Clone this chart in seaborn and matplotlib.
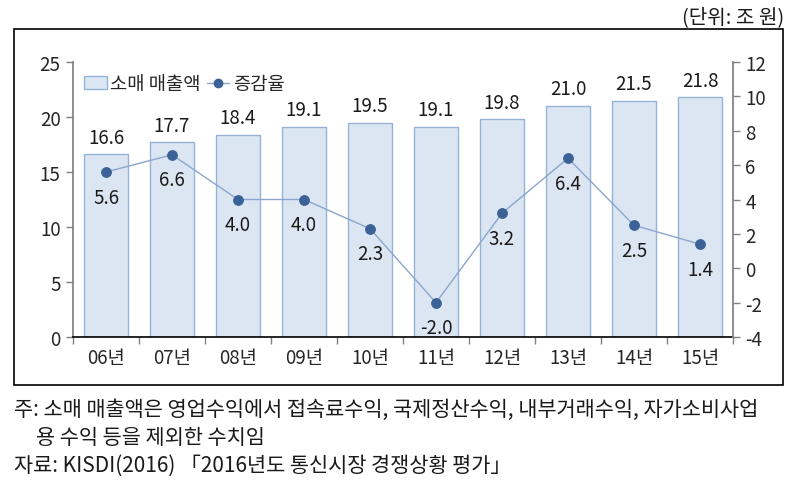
import matplotlib
matplotlib.use("Agg")
import matplotlib.pyplot as plt
import seaborn as sns
import pandas as pd
from matplotlib.patches import Rectangle, Patch
from matplotlib.lines import Line2D

years = ["06년", "07년", "08년", "09년", "10년", "11년", "12년", "13년", "14년", "15년"]
sales = [16.6, 17.7, 18.4, 19.1, 19.5, 19.1, 19.8, 21.0, 21.5, 21.8]
growth = [5.6, 6.6, 4.0, 4.0, 2.3, -2.0, 3.2, 6.4, 2.5, 1.4]
left_ticks = [0, 5, 10, 15, 20, 25]
right_ticks = [-4, -2, 0, 2, 4, 6, 8, 10, 12]

sns.set_theme(style="white")
plt.rcParams['font.family'] = ['Noto Sans CJK KR', 'DejaVu Sans']

df = pd.DataFrame({"year": years, "sales": sales, "growth": growth, "pos": range(len(years))})

fig = plt.figure(figsize=(7.91, 4.85), dpi=100)
W, H = 791, 485
ax = fig.add_axes([73 / W, 1 - 338 / H, (733 - 73) / W, (338 - 63) / H])

bar_face = "#DCE6F2"
bar_edge = "#95B3D7"
sns.barplot(data=df, x="year", y="sales", ax=ax, color=bar_face, width=0.66,
            saturation=1, edgecolor=bar_edge, linewidth=1.0)
ax.set_ylim(0, 25)
ax.set_xlim(-0.5, len(years) - 0.5)
ax.set_yticks(left_ticks)
ax.set_yticklabels([str(t) for t in left_ticks], fontsize=13.5)
ax.set_xlabel("")
ax.set_ylabel("")
ax.set_xticks(range(len(years)))
ax.set_xticklabels(years, fontsize=13.5)
ax.set_xticks([i - 0.5 for i in range(len(years) + 1)], minor=True)
ax.tick_params(axis="x", which="major", length=0, pad=7)
ax.tick_params(axis="x", which="minor", length=5, width=1, color="#808080", direction="out", bottom=True)
ax.tick_params(axis="y", length=5, width=1, color="#808080", direction="out", left=True, pad=4)
for s in ["top", "right"]:
    ax.spines[s].set_visible(False)
ax.spines["left"].set_color("#808080")
ax.spines["bottom"].set_color("black")
ax.spines["bottom"].set_linewidth(1.2)
for i, v in enumerate(sales):
    ax.text(i, v + 0.6, f"{v:.1f}", ha="center", va="bottom", fontsize=13.5, color="#1a1a1a")

ax2 = ax.twinx()
sns.lineplot(data=df, x="pos", y="growth", ax=ax2, color="#8AA5CF", linewidth=1.0,
             marker="o", markersize=7, markerfacecolor="#3B6296", markeredgecolor="#3B6296")
ax2.set_ylim(-4, 12)
ax2.set_yticks(right_ticks)
ax2.set_yticklabels([str(t) for t in right_ticks], fontsize=13.5)
ax2.set_ylabel("")
ax2.set_xlabel("")
ax2.tick_params(axis="y", length=5, width=1, color="#808080", direction="out", right=True, pad=4)
for s in ["top", "left", "bottom"]:
    ax2.spines[s].set_visible(False)
ax2.spines["right"].set_color("#808080")
ax2.set_xlim(-0.5, len(years) - 0.5)
for i, v in enumerate(growth):
    ax2.text(i, v - 0.85, f"{v:.1f}", ha="center", va="top", fontsize=13.5, color="#1a1a1a")

handles = [Patch(facecolor=bar_face, edgecolor=bar_edge, linewidth=1.0),
           Line2D([0], [0], color="#8AA5CF", lw=1.0, marker="o", markersize=6,
                  markerfacecolor="#3B6296", markeredgecolor="#3B6296")]
leg = ax.legend(handles, ["소매 매출액", "증감율"], loc="upper left", bbox_to_anchor=(0.0, 1.0),
                frameon=False, fontsize=13.5, ncol=2, handlelength=1.2, handletextpad=0.2,
                columnspacing=0.3, borderaxespad=0.2)

# frame box
fig.patches.append(Rectangle((14 / W, 1 - 386 / H), (783 - 14) / W, (386 - 30) / H,
                             transform=fig.transFigure, fill=False, edgecolor="black",
                             linewidth=1.2))

fig.text(784 / W, 1 - 18 / H, "(단위: 조 원)", ha="right", va="center", fontsize=14.5, color="#1a1a1a")
fig.text(14 / W, 1 - 410 / H, "주: 소매 매출액은 영업수익에서 접속료수익, 국제정산수익, 내부거래수익, 자가소비사업",
         ha="left", va="center", fontsize=15, color="#1a1a1a")
fig.text(36 / W, 1 - 438 / H, "용 수익 등을 제외한 수치임", ha="left", va="center", fontsize=15, color="#1a1a1a")
fig.text(14 / W, 1 - 466 / H, "자료: KISDI(2016) 「2016년도 통신시장 경쟁상황 평가」", ha="left", va="center",
         fontsize=15, color="#1a1a1a")

fig.savefig("out.png", dpi=100)
